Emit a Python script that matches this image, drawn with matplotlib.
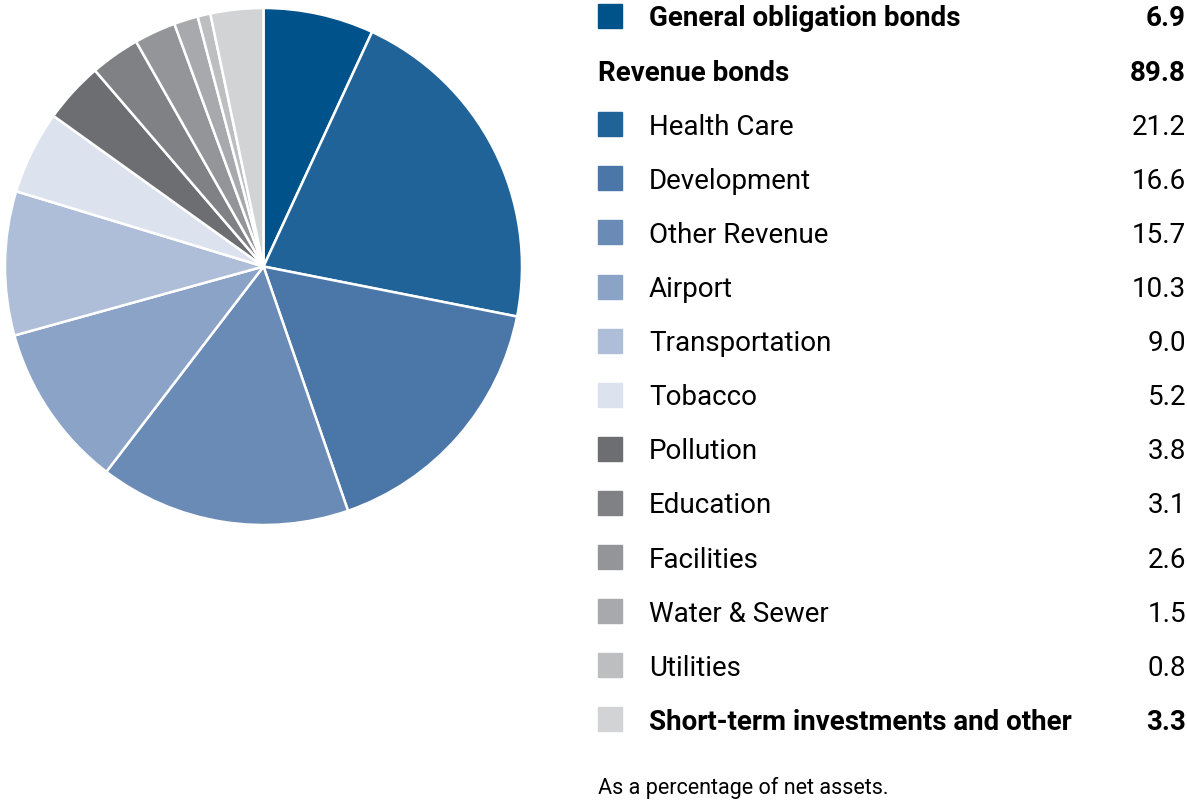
import matplotlib.pyplot as plt

labels = ["General obligation bonds", "Health Care", "Development", "Other Revenue",
          "Airport", "Transportation", "Tobacco", "Pollution", "Education",
          "Facilities", "Water & Sewer", "Utilities", "Short-term investments and other"]
values = [6.9, 21.2, 16.6, 15.7, 10.3, 9.0, 5.2, 3.8, 3.1, 2.6, 1.5, 0.8, 3.3]
colors = ["#00538A", "#1F6399", "#4A76A8", "#6A8BB6", "#8AA3C7", "#AEBED9", "#DDE3EE",
          "#6D6E71", "#808184", "#939598", "#A7A9AC", "#BCBEC0", "#D1D3D4"]
revenue_label = "Revenue bonds"
revenue_total = 89.8
bold_labels = ["General obligation bonds", "Short-term investments and other"]
footnote = "As a percentage of net assets."

W, H = 1187, 803
fig = plt.figure(figsize=(W / 100, H / 100), dpi=100)
plt.rcParams['font.family'] = ['Roboto', 'DejaVu Sans']

# pie
ax = fig.add_axes([5 / W, (H - 526) / H, 517 / W, 517 / H])
ax.pie(values, colors=colors, startangle=90, counterclock=False, radius=1,
       wedgeprops=dict(edgecolor="white", linewidth=1.8))
ax.set_xlim(-1, 1)
ax.set_ylim(-1, 1)
ax.set_aspect("equal")
ax.axis("off")

# legend table
rows = [(labels[0], values[0], colors[0])]
rows.append((revenue_label, revenue_total, None))
for l, v, c in zip(labels[1:], values[1:], colors[1:]):
    rows.append((l, v, c))

fs = 20
y0, step = 17, 54.1
for i, (l, v, c) in enumerate(rows):
    y = y0 + i * step
    yf = 1 - (y + 2) / H
    bold = (c is None) or (l in bold_labels)
    fw = "bold" if bold else "normal"
    if c is not None:
        fig.patches.append(plt.Rectangle((598 / W, 1 - (y + 12) / H), 24 / W, 24 / H,
                                         transform=fig.transFigure, color=c))
        tx = 649
    else:
        tx = 598
    fig.text(tx / W, yf, l, fontsize=fs, fontweight=fw, va="center", ha="left")
    fig.text(1186 / W, yf, f"{v:.1f}", fontsize=fs, fontweight=fw, va="center", ha="right")

fig.text(598 / W, 1 - 788 / H, footnote, fontsize=15.5, va="center", ha="left")

fig.savefig("out.png", dpi=100)
